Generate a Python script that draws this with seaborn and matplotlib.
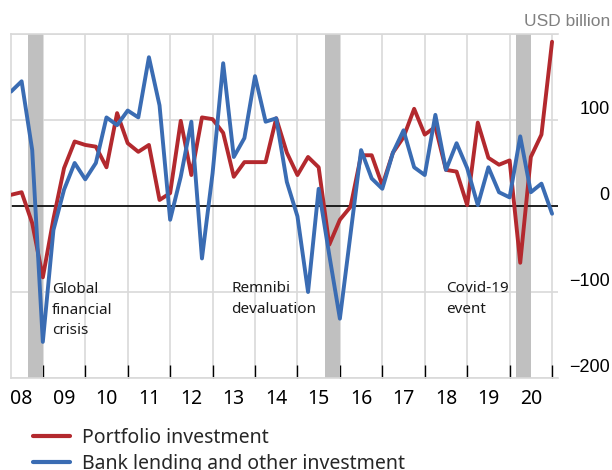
import pandas as pd
import seaborn as sns
import matplotlib.pyplot as plt
import matplotlib.transforms as mtransforms
from matplotlib.lines import Line2D
import numpy as np


# quarterly flows, 2008 Q1 .. 2020 Q4 (USD billion)
YEARS = list(range(2008, 2021))
QUARTERS = [1, 2, 3, 4]

PORTFOLIO = [13, 16, -20, -83, -15, 44, 75, 71, 69, 45, 108, 73, 63,
             71, 7, 15, 99, 36, 103, 101, 85, 34, 51, 51, 51, 102,
             62, 36, 57, 45, -45, -16, -1, 59, 59, 24, 62, 80, 113,
             83, 92, 42, 40, 1, 97, 56, 48, 53, -66, 57, 83, 191]

BANK = [133, 145, 65, -158, -28, 19, 50, 31, 50, 103, 94, 111, 103,
        173, 117, -16, 34, 98, -61, 38, 166, 57, 79, 151, 98, 102,
        28, -12, -100, 20, -57, -131, -33, 65, 32, 20, 62, 88, 45,
        36, 106, 42, 73, 44, 1, 45, 16, 10, 81, 16, 26, -9]

SERIES_NAMES = ["Portfolio investment", "Bank lending and other investment"]
SERIES_COLORS = ["#B3292E", "#3A6CB3"]

YEAR_LABELS = ["08", "09", "10", "11", "12", "13", "14", "15", "16", "17", "18", "19", "20"]
Y_TICKS = [-200, -100, 0, 100]
Y_LABELS = ["\u2212200", "\u2212100", "0", "100"]

# shaded event windows (start, end) in fractional years
EVENT_SPANS = [(2008.65, 2009.0), (2015.64, 2016.0), (2020.15, 2020.5)]
EVENT_TEXTS = ["Global\nfinancial\ncrisis", "Remnibi\ndevaluation", "Covid-19\nevent"]
EVENT_TEXT_POS = [(2009.22, -121), (2013.44, -108), (2018.50, -108)]


# build long table for seaborn, points at quarter ends
dates = [y + q / 4 for y in YEARS for q in QUARTERS]
df = pd.DataFrame({"date": dates,
                   SERIES_NAMES[0]: PORTFOLIO,
                   SERIES_NAMES[1]: BANK})
df_long = df.melt(id_vars="date", var_name="series", value_name="value")

sns.set_theme(style="white")
plt.rcParams['font.family'] = ['Noto Sans', 'DejaVu Sans']

fig = plt.figure(figsize=(6.12, 4.70), dpi=100)
ax = fig.add_axes([11 / 612, (470 - 378) / 470, (558 - 11) / 612, (378 - 34) / 470])

grid_col = "#D9D9D9"

for start, end in EVENT_SPANS:
    ax.axvspan(start, end, color="#C0C0C0", lw=0, zorder=1)

sns.lineplot(data=df_long, x="date", y="value", hue="series",
             hue_order=SERIES_NAMES,
             palette=dict(zip(SERIES_NAMES, SERIES_COLORS)),
             linewidth=2.8, legend=False, ax=ax, zorder=3)

ax.axhline(0, color="black", lw=1.2, zorder=2)

ax.set_xlim(2008.25, 2021.14)
ax.set_ylim(-200, 200)

# year boundaries: gridlines + inward tick marks
ax.set_xticks(np.arange(2009, 2022))
ax.set_xticklabels([])
ax.set_xticks([y + 0.5 for y in YEARS], minor=True)
ax.set_xticklabels(YEAR_LABELS, minor=True, fontsize=14)
ax.tick_params(axis="x", which="major", direction="in", length=9.5,
               width=1, color="black", bottom=True)
ax.tick_params(axis="x", which="minor", length=0, pad=8, colors="black")

ax.yaxis.tick_right()
ax.set_yticks(Y_TICKS + [200])
ax.set_yticklabels(Y_LABELS + [""], fontsize=13, family="Liberation Sans")
ax.tick_params(axis="y", length=0, pad=37, colors="black")
offset = mtransforms.ScaledTranslation(0, 13 / 100, fig.dpi_scale_trans)
for lab in ax.get_yticklabels():
    lab.set_horizontalalignment("right")
    lab.set_transform(lab.get_transform() + offset)

ax.grid(True, which="major", color=grid_col, lw=1.2, zorder=0)
ax.set_axisbelow(True)
for side in ["left", "top", "bottom"]:
    ax.spines[side].set_color(grid_col)
    ax.spines[side].set_linewidth(1.2)
ax.spines["right"].set_visible(False)
ax.set_xlabel("")
ax.set_ylabel("")

for txt, (tx, ty) in zip(EVENT_TEXTS, EVENT_TEXT_POS):
    ax.text(tx, ty, txt, fontsize=11, ha="left", va="center",
            linespacing=1.5, color="#1a1a1a", zorder=4)

fig.text(610 / 612, 1 - 22 / 470, "USD billion", ha="right", va="center",
         fontsize=12.5, color="#808080", family="Liberation Sans")

handles = [Line2D([0], [0], color=c, lw=3) for c in SERIES_COLORS]
fig.legend(handles, SERIES_NAMES, loc="upper left",
           bbox_to_anchor=(33 / 612, 1 - 428 / 470), frameon=False,
           fontsize=14, handlelength=1.9, handletextpad=0.6,
           labelspacing=0.3, borderpad=0, borderaxespad=0)

fig.savefig("out.png", dpi=100, facecolor="white")
